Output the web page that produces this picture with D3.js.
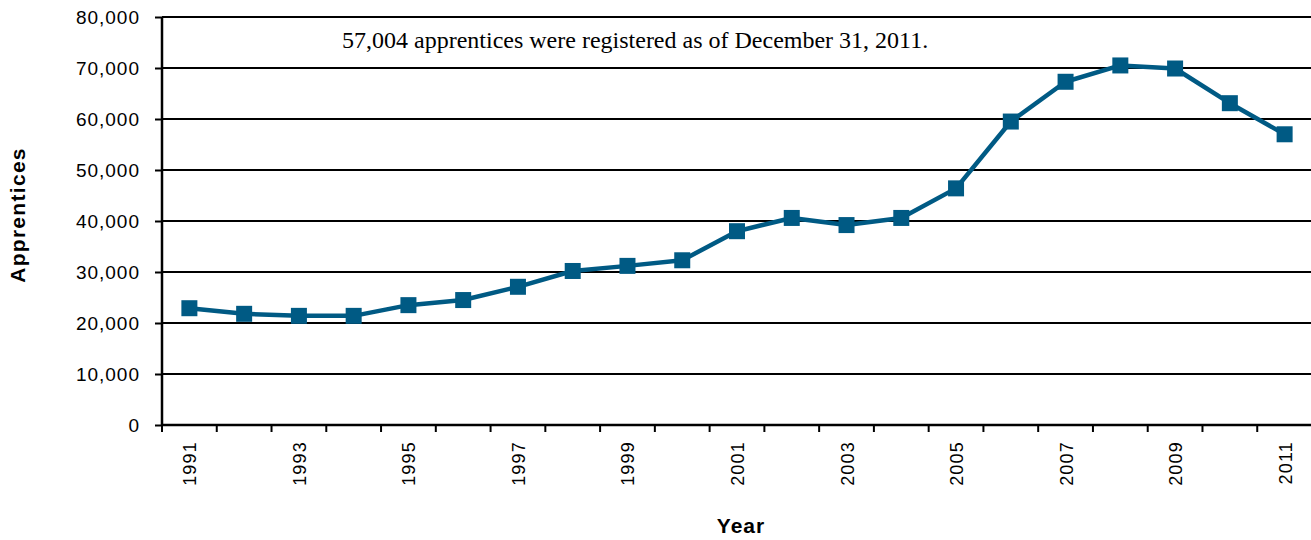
<!DOCTYPE html>
<html>
<head>
<meta charset="utf-8">
<script src="https://d3js.org/d3.v7.min.js"></script>
<style>
  body { margin: 0; background: #fff; }
</style>
</head>
<body>
<div id="chart"></div>
<script>
// data
var years = [1991, 1992, 1993, 1994, 1995, 1996, 1997, 1998, 1999, 2000,
  2001, 2002, 2003, 2004, 2005, 2006, 2007, 2008, 2009, 2010, 2011];
var apprentices = [22900, 21800, 21400, 21400, 23500, 24500, 27100, 30200, 31200, 32300,
  38000, 40600, 39200, 40600, 46400, 59500, 67300, 70500, 69900, 63100, 57004];
var yTicks = [0, 10000, 20000, 30000, 40000, 50000, 60000, 70000, 80000];
var note = "57,004 apprentices were registered as of December 31, 2011.";

var sans = "Liberation Sans, Arial, sans-serif";
var serif = "Liberation Serif, Times New Roman, serif";

var svgWidth = 1311;
var svgHeight = 540;
var margin = { top: 17, right: -1, bottom: 115, left: 162 };
var width = svgWidth - margin.left - margin.right;
var height = svgHeight - margin.top - margin.bottom;

var svg = d3.select("#chart")
  .append("svg")
  .attr("width", svgWidth)
  .attr("height", svgHeight);

var chartGroup = svg.append("g")
  .attr("transform", `translate(${margin.left}, ${margin.top})`);

var xScale = d3.scaleBand()
  .domain(years)
  .range([0, width]);

var yScale = d3.scaleLinear()
  .domain([0, 80000])
  .range([height, 0]);

// gridlines
chartGroup.append("g")
  .selectAll("line")
  .data(yTicks.filter(d => d > 0))
  .enter()
  .append("line")
  .attr("x1", 0)
  .attr("x2", width)
  .attr("y1", d => yScale(d))
  .attr("y2", d => yScale(d))
  .attr("stroke", "#000")
  .attr("stroke-width", 2);

// y axis
var leftAxis = d3.axisLeft(yScale)
  .tickValues(yTicks)
  .tickFormat(d3.format(","))
  .tickSize(7)
  .tickPadding(15);

var yAxis = chartGroup.append("g").call(leftAxis);
yAxis.select(".domain").attr("stroke-width", 2.5).attr("d", `M0,${height}V0`);
yAxis.selectAll(".tick line").attr("stroke-width", 2);
yAxis.selectAll("text")
  .attr("font-size", 19)
  .attr("letter-spacing", 1)
  .attr("fill", "#000")
  .attr("font-family", sans);

// x axis
var xAxis = chartGroup.append("g")
  .attr("transform", `translate(0, ${height})`);

xAxis.append("line")
  .attr("x1", 0)
  .attr("x2", width)
  .attr("stroke", "#000")
  .attr("stroke-width", 2.5);

xAxis.selectAll(".xtick")
  .data(years)
  .enter()
  .append("line")
  .attr("class", "xtick")
  .attr("x1", d => xScale(d))
  .attr("x2", d => xScale(d))
  .attr("y1", 0)
  .attr("y2", 7)
  .attr("stroke", "#000")
  .attr("stroke-width", 2);

xAxis.selectAll(".xlabel")
  .data(years.filter((d, i) => i % 2 === 0))
  .enter()
  .append("text")
  .attr("class", "xlabel")
  .attr("transform", d => `translate(${xScale(d) + xScale.bandwidth() / 2 + 7}, 16) rotate(-90)`)
  .attr("text-anchor", "end")
  .attr("font-family", sans)
  .attr("font-size", 18)
  .attr("letter-spacing", 1.2)
  .attr("fill", "#000")
  .text(d => d);

// line + markers
var line = d3.line()
  .x((d, i) => xScale(years[i]) + xScale.bandwidth() / 2)
  .y(d => yScale(d));

chartGroup.append("path")
  .datum(apprentices)
  .attr("d", line)
  .attr("fill", "none")
  .attr("stroke", "#005a84")
  .attr("stroke-width", 4.5)
  .attr("stroke-linejoin", "round");

chartGroup.selectAll(".marker")
  .data(apprentices)
  .enter()
  .append("rect")
  .attr("class", "marker")
  .attr("x", (d, i) => xScale(years[i]) + xScale.bandwidth() / 2 - 8)
  .attr("y", d => yScale(d) - 8)
  .attr("width", 16)
  .attr("height", 16)
  .attr("fill", "#005a84");

// note
chartGroup.append("text")
  .attr("x", 180)
  .attr("y", 31)
  .attr("font-family", serif)
  .attr("font-size", 24)
  .attr("fill", "#000")
  .text(note);

// axis titles
svg.append("text")
  .attr("x", 741)
  .attr("y", 533)
  .attr("text-anchor", "middle")
  .attr("font-family", sans)
  .attr("font-size", 21)
  .attr("letter-spacing", 1)
  .attr("font-weight", "bold")
  .text("Year");

svg.append("text")
  .attr("transform", "translate(25, 215) rotate(-90)")
  .attr("text-anchor", "middle")
  .attr("font-family", sans)
  .attr("font-size", 21)
  .attr("letter-spacing", 1.3)
  .attr("font-weight", "bold")
  .text("Apprentices");
</script>
</body>
</html>
